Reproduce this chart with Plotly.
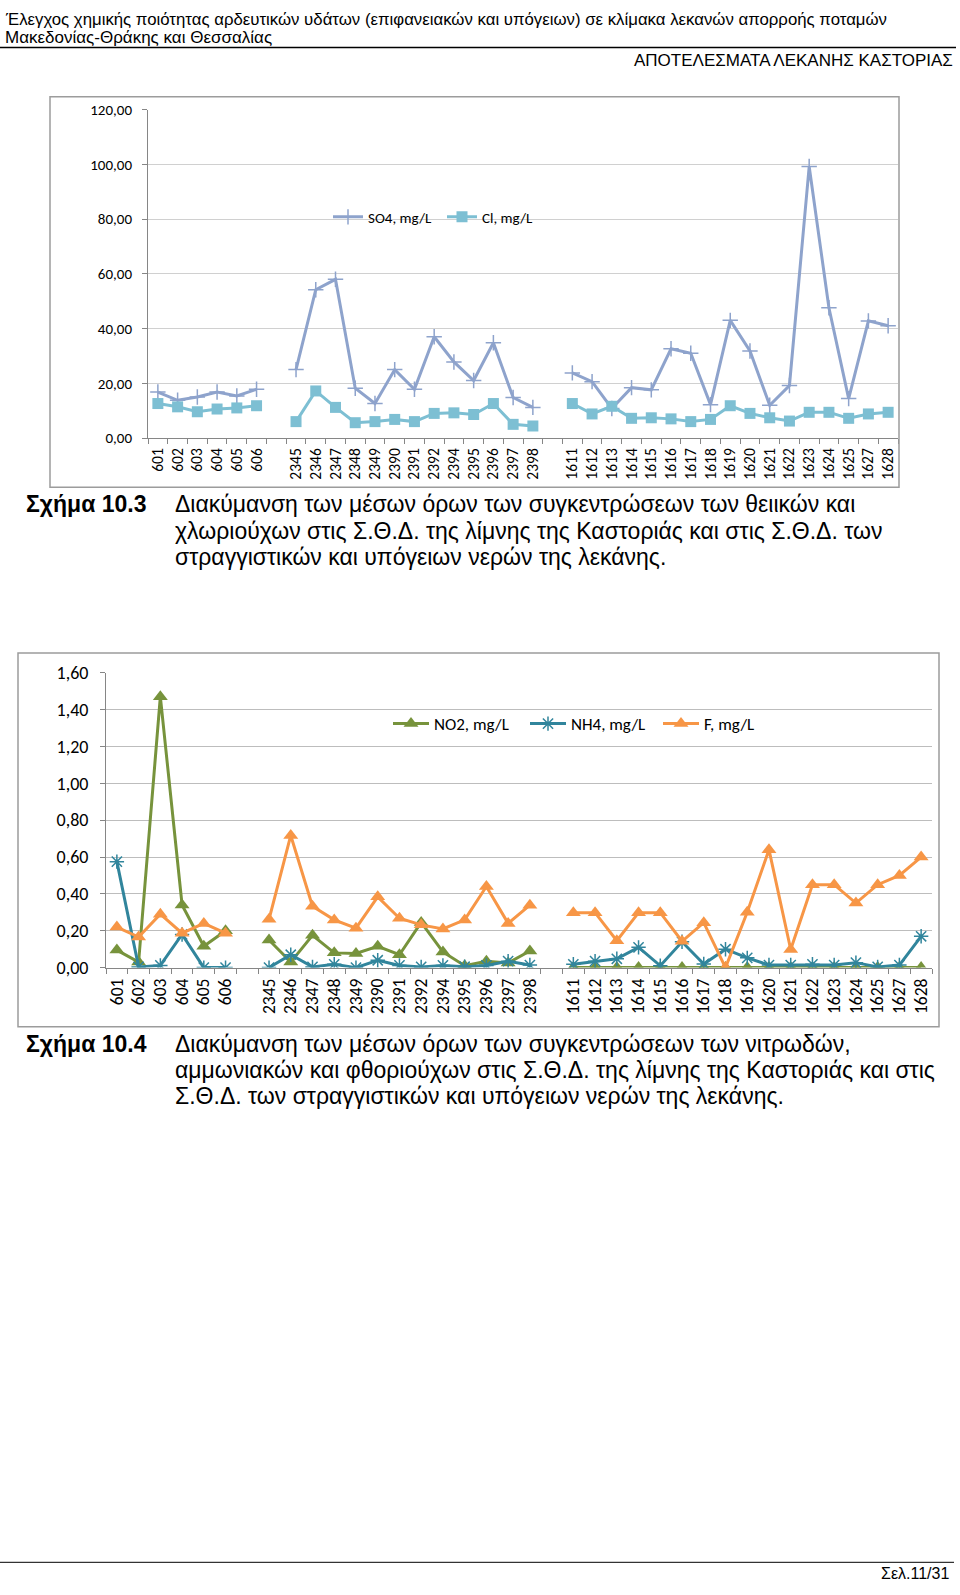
import plotly.graph_objects as go

W, H = 960, 1595

# ---------------- data ----------------
categories = ["601", "602", "603", "604", "605", "606", " ",
              "2345", "2346", "2347", "2348", "2349", "2390", "2391", "2392",
              "2394", "2395", "2396", "2397", "2398", "  ",
              "1611", "1612", "1613", "1614", "1615", "1616", "1617", "1618",
              "1619", "1620", "1621", "1622", "1623", "1624", "1625", "1627", "1628"]

so4 = [16.8, 13.8, 15.0, 16.8, 15.4, 17.8, None,
       25.0, 54.2, 58.0, 18.2, 12.6, 25.0, 17.8, 37.0, 27.8, 21.0, 34.8, 14.8, 11.2, None,
       23.8, 20.6, 10.8, 18.4, 17.6, 32.6, 31.0, 12.2, 43.0, 31.8, 12.0, 19.2, 99.2, 47.6, 14.4, 42.8, 41.0]
cl = [12.6, 11.4, 9.6, 10.6, 11.0, 11.8, None,
      6.0, 17.2, 11.2, 5.6, 6.0, 6.8, 6.0, 9.0, 9.2, 8.6, 12.6, 5.0, 4.4, None,
      12.6, 8.8, 11.6, 7.2, 7.4, 7.0, 6.0, 6.8, 11.8, 9.0, 7.4, 6.2, 9.4, 9.4, 7.2, 8.8, 9.4]

no2 = [0.095, 0.03, 1.47, 0.34, 0.116, 0.20, None,
       0.15, 0.03, 0.175, 0.08, 0.077, 0.116, 0.07, 0.245, 0.085, 0.01, 0.035, 0.025, 0.09, None,
       0.0, 0.0, 0.0, 0.0, 0.0, 0.0, 0.0, 0.0, 0.0, 0.0, 0.0, 0.0, 0.0, 0.0, 0.0, 0.0, 0.0]
nh4 = [0.575, 0.004, 0.012, 0.18, 0.0, 0.0, None,
       0.0, 0.07, 0.004, 0.018, 0.0, 0.04, 0.012, 0.004, 0.012, 0.005, 0.012, 0.035, 0.014, None,
       0.018, 0.035, 0.048, 0.11, 0.01, 0.14, 0.02, 0.10, 0.053, 0.014, 0.014, 0.018, 0.014, 0.027, 0.004, 0.014, 0.17]
fl = [0.22, 0.166, 0.29, 0.187, 0.24, 0.187, None,
      0.262, 0.717, 0.333, 0.259, 0.214, 0.384, 0.268, 0.232, 0.21, 0.259, 0.44, 0.24, 0.339, None,
      0.298, 0.298, 0.146, 0.298, 0.298, 0.143, 0.244, 0.0, 0.30, 0.64, 0.098, 0.45, 0.45, 0.35, 0.45, 0.50, 0.60]

y1_ticks = [0, 20, 40, 60, 80, 100, 120]
y1_labels = ["0,00", "20,00", "40,00", "60,00", "80,00", "100,00", "120,00"]
y2_ticks = [0, 0.2, 0.4, 0.6, 0.8, 1.0, 1.2, 1.4, 1.6]
y2_labels = ["0,00", "0,20", "0,40", "0,60", "0,80", "1,00", "1,20", "1,40", "1,60"]

header1 = "Έλεγχος χημικής ποιότητας αρδευτικών υδάτων (επιφανειακών και υπόγειων) σε κλίμακα λεκανών απορροής ποταμών"
header2 = "Μακεδονίας-Θράκης και Θεσσαλίας"
header3 = "ΑΠΟΤΕΛΕΣΜΑΤΑ ΛΕΚΑΝΗΣ ΚΑΣΤΟΡΙΑΣ"
cap1_label = "Σχήμα 10.3"
cap1_lines = ["Διακύμανση των μέσων όρων των συγκεντρώσεων των θειικών και",
              "χλωριούχων στις Σ.Θ.Δ. της λίμνης της Καστοριάς και στις Σ.Θ.Δ. των",
              "στραγγιστικών και υπόγειων νερών της λεκάνης."]
cap2_label = "Σχήμα 10.4"
cap2_lines = ["Διακύμανση των μέσων όρων των συγκεντρώσεων των νιτρωδών,",
              "αμμωνιακών και φθοριούχων στις Σ.Θ.Δ. της λίμνης της Καστοριάς και στις",
              "Σ.Θ.Δ. των στραγγιστικών και υπόγειων νερών της λεκάνης."]
footer = "Σελ.11/31"

# ---------------- helpers ----------------
def X(px):
    return px / W

def Y(py):
    return 1 - py / H

CHART_FONT = "Carlito, Lato, sans-serif"
DOC_FONT = "Liberation Sans, Arial, sans-serif"

fig = go.Figure()

# chart 1
fig.add_trace(go.Scatter(x=categories, y=so4, name="SO4, mg/L", mode="lines+markers",
                         line=dict(color="#8EA3CC", width=3),
                         marker=dict(symbol="cross-thin-open", size=11,
                                     line=dict(color="#7F95C2", width=1.5)),
                         xaxis="x", yaxis="y", legend="legend6"))
fig.add_trace(go.Scatter(x=categories, y=cl, name="Cl, mg/L", mode="lines+markers",
                         line=dict(color="#7DBFD3", width=3),
                         marker=dict(symbol="square", size=11, color="#7DBFD3"),
                         xaxis="x", yaxis="y", legend="legend2"))

# chart 2
fig.add_trace(go.Scatter(x=categories, y=no2, name="NO2, mg/L", mode="lines+markers",
                         line=dict(color="#77933C", width=3),
                         marker=dict(symbol="triangle-up", size=13, color="#77933C"),
                         xaxis="x2", yaxis="y2", legend="legend3"))
fig.add_trace(go.Scatter(x=categories, y=nh4, name="NH4, mg/L", mode="lines+markers",
                         line=dict(color="#31859C", width=3),
                         marker=dict(symbol="asterisk-open", size=12,
                                     line=dict(color="#31859C", width=1.5)),
                         xaxis="x2", yaxis="y2", legend="legend4"))
fig.add_trace(go.Scatter(x=categories, y=fl, name="F, mg/L", mode="lines+markers",
                         line=dict(color="#F79646", width=3),
                         marker=dict(symbol="triangle-up", size=13, color="#F79646"),
                         xaxis="x2", yaxis="y2", legend="legend5"))


def xaxis_style(size):
    return dict(type="category", categoryorder="array", categoryarray=categories,
                tickmode="linear", tick0=0, dtick=1,
                tickangle=-90, ticks="outside", tickson="boundaries", ticklen=5,
                tickcolor="#868686", showline=True, linecolor="#868686", linewidth=1,
                showgrid=False, zeroline=False, fixedrange=True, ticklabelstandoff=3,
                tickfont=dict(family=CHART_FONT, size=size, color="#000000"))


def yaxis_style(size, standoff):
    return dict(ticks="outside", ticklen=5, tickcolor="#868686", showline=True,
                linecolor="#868686", linewidth=1, showgrid=True, zeroline=False,
                ticklabelstandoff=standoff, fixedrange=True,
                tickfont=dict(family=CHART_FONT, size=size, color="#000000"))


def legend_at(px, py, size, itemw=30):
    return dict(orientation="h", x=X(px), y=Y(py), xanchor="left", yanchor="middle",
                bgcolor="rgba(0,0,0,0)", itemwidth=itemw,
                font=dict(family=CHART_FONT, size=size, color="#000000"))


fig.update_layout(
    width=W, height=H, margin=dict(l=0, r=0, t=0, b=0),
    paper_bgcolor="white", plot_bgcolor="white", showlegend=True,
    xaxis=dict(domain=[X(148), X(898)], anchor="y", range=[-0.5, 37.5], **xaxis_style(15.5)),
    yaxis=dict(domain=[Y(433), Y(100)], anchor="x", range=[0, 120], tickvals=y1_ticks,
               ticktext=y1_labels, gridcolor="#D0D0D0", **yaxis_style(15, 7)),
    xaxis2=dict(domain=[X(106), X(932)], anchor="y2", range=[-0.5, 37.5], **xaxis_style(17.5)),
    yaxis2=dict(domain=[Y(970), Y(671)], anchor="x2", range=[0, 1.6], tickvals=y2_ticks,
                ticktext=y2_labels, gridcolor="#BDBDBD", **yaxis_style(18, 8)),
    legend6=legend_at(328, 209, 15),
    legend2=legend_at(442, 209, 15),
    legend3=legend_at(388, 723, 17, 36),
    legend4=legend_at(525, 723, 17, 36),
    legend5=legend_at(658, 723, 17, 36),
)

shapes = [
    # header rule and footer rule
    dict(type="line", xref="paper", yref="paper", x0=X(0), x1=X(956), y0=Y(37), y1=Y(37),
         line=dict(color="#000000", width=1.5)),
    dict(type="line", xref="paper", yref="paper", x0=X(0), x1=X(954), y0=Y(1573), y1=Y(1573),
         line=dict(color="#000000", width=1)),
    # chart frames
    dict(type="rect", xref="paper", yref="paper", x0=X(50), x1=X(899), y0=Y(483), y1=Y(87),
         line=dict(color="#9C9C9C", width=1.5)),
    dict(type="rect", xref="paper", yref="paper", x0=X(18), x1=X(939), y0=Y(1030), y1=Y(651),
         line=dict(color="#9C9C9C", width=1.5)),
]

ann = []


def text(px, py, s, size, anchor="left", bold=False, family=DOC_FONT):
    ann.append(dict(xref="paper", yref="paper", x=X(px), y=Y(py),
                    text=("<b>%s</b>" % s) if bold else s,
                    showarrow=False, xanchor=anchor, yanchor="middle",
                    font=dict(family=family, size=size, color="#000000")))


text(3, 9, header1, 16.8)
text(3, 27, header2, 17)
text(955, 50, header3, 17, anchor="right")

text(24, 500, cap1_label, 23, bold=True)
for i, s in enumerate(cap1_lines):
    text(173, 500 + i * 27, s, 23)

text(24, 1047, cap2_label, 23, bold=True)
for i, s in enumerate(cap2_lines):
    text(173, 1047 + i * 26.5, s, 23)

text(951, 1584, footer, 16, anchor="right")

fig.update_layout(shapes=shapes, annotations=ann)
fig.write_html(
    "out.html",
    config={"displayModeBar": False},
    post_script=("document.body.style.margin='0';document.body.style.overflow='hidden';"
                 "var d=document.getElementById('{plot_id}');"
                 "d.style.position='fixed';d.style.top='0px';d.style.left='0px';"),
)
